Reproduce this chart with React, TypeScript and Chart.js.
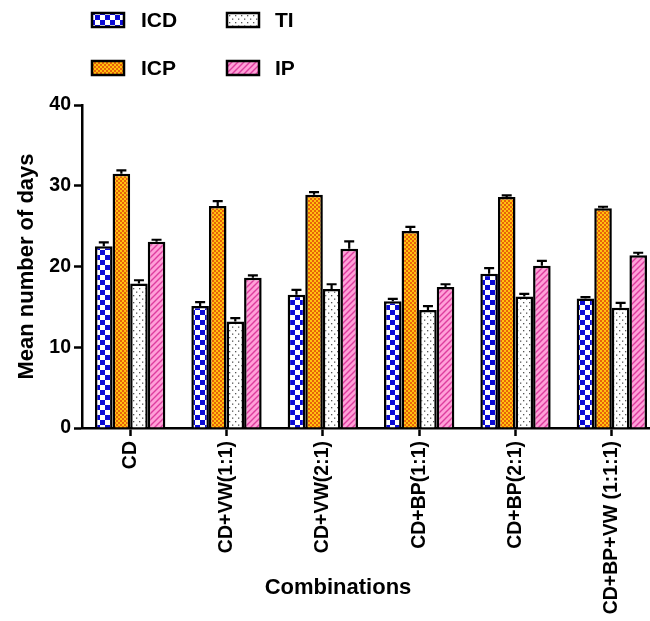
import React, { useEffect, useRef } from "react";
import { Chart, registerables } from "chart.js";

Chart.register(...registerables);

const categories = ["CD", "CD+VW(1:1)", "CD+VW(2:1)", "CD+BP(1:1)", "CD+BP(2:1)", "CD+BP+VW (1:1:1)"];
const seriesNames = ["ICD", "ICP", "TI", "IP"];

const icdValues = [22.5, 15.1, 16.5, 15.7, 19.1, 16.05];
const icdErrors = [0.5, 0.5, 0.6, 0.3, 0.7, 0.15];
const icpValues = [31.5, 27.5, 28.9, 24.4, 28.6, 27.2];
const icpErrors = [0.4, 0.6, 0.3, 0.5, 0.2, 0.2];
const tiValues = [17.9, 13.2, 17.2, 14.6, 16.3, 14.9];
const tiErrors = [0.4, 0.4, 0.6, 0.5, 0.3, 0.6];
const ipValues = [23.06, 18.6, 22.2, 17.45, 20.1, 21.4];
const ipErrors = [0.25, 0.3, 0.9, 0.35, 0.6, 0.3];

const yMin = 0;
const yMax = 40;
const yStep = 10;
const yTitle = "Mean number of days";
const xTitle = "Combinations";

const FONT = "'Liberation Sans', Arial, Helvetica, sans-serif";

function makePattern(kind: string): CanvasPattern | string {
  const c = document.createElement("canvas");
  const ctx = c.getContext("2d")!;
  if (kind === "ICD") {
    c.width = 10; c.height = 10;
    ctx.fillStyle = "#ffffff"; ctx.fillRect(0, 0, 10, 10);
    ctx.fillStyle = "#0b0bd6";
    ctx.fillRect(0, 0, 5, 5); ctx.fillRect(5, 5, 5, 5);
  } else if (kind === "ICP") {
    c.width = 4; c.height = 4;
    ctx.fillStyle = "#ffc20e"; ctx.fillRect(0, 0, 4, 4);
    ctx.fillStyle = "#e8620a";
    ctx.fillRect(0, 0, 2, 2); ctx.fillRect(2, 2, 2, 2);
  } else if (kind === "TI") {
    c.width = 6; c.height = 7;
    ctx.fillStyle = "#ffffff"; ctx.fillRect(0, 0, 6, 7);
    ctx.fillStyle = "#555555";
    ctx.fillRect(1, 1, 1.3, 1.3); ctx.fillRect(4, 4.5, 1.3, 1.3);
  } else {
    c.width = 6; c.height = 6;
    ctx.fillStyle = "#ff9fd8"; ctx.fillRect(0, 0, 6, 6);
    ctx.strokeStyle = "#dd3d9e"; ctx.lineWidth = 1.4;
    ctx.beginPath();
    ctx.moveTo(0, 6); ctx.lineTo(6, 0);
    ctx.moveTo(-1, 1); ctx.lineTo(1, -1);
    ctx.moveTo(5, 7); ctx.lineTo(7, 5);
    ctx.stroke();
  }
  return ctx.createPattern(c, "repeat")!;
}

export default function App() {
  const ref = useRef<HTMLCanvasElement>(null);

  useEffect(() => {
    if (!ref.current) return;
    const values = [icdValues, icpValues, tiValues, ipValues];
    const errors = [icdErrors, icpErrors, tiErrors, ipErrors];
    const datasets = seriesNames.map((name, i) => ({
      label: name,
      data: values[i],
      backgroundColor: makePattern(name) as any,
      borderColor: "#000000",
      borderWidth: 2.5,
      categoryPercentage: 0.73,
      barPercentage: 1.0,
    }));

    const errorBars = {
      id: "errorBars",
      afterDatasetsDraw(chart: any) {
        const ctx = chart.ctx;
        const yScale = chart.scales.y;
        ctx.save();
        ctx.strokeStyle = "#000";
        ctx.lineWidth = 2.2;
        chart.data.datasets.forEach((ds: any, i: number) => {
          const meta = chart.getDatasetMeta(i);
          meta.data.forEach((bar: any, j: number) => {
            const v = values[i][j];
            const e = errors[i][j];
            const yt = yScale.getPixelForValue(v + e);
            const yb = yScale.getPixelForValue(v);
            ctx.beginPath();
            ctx.moveTo(bar.x, yb);
            ctx.lineTo(bar.x, yt);
            ctx.moveTo(bar.x - 5, yt);
            ctx.lineTo(bar.x + 5, yt);
            ctx.stroke();
          });
        });
        ctx.restore();
      },
    };

    const customLegend = {
      id: "customLegend",
      afterDraw(chart: any) {
        const ctx = chart.ctx;
        const colBox = [92, 227];
        const colText = [141, 275];
        const rowY = [20, 68];
        ctx.save();
        chart.data.datasets.forEach((ds: any, i: number) => {
          const col = Math.floor(i / 2);
          const row = i % 2;
          const bx = colBox[col];
          const by = rowY[row] - 7;
          ctx.fillStyle = ds.backgroundColor;
          ctx.fillRect(bx, by, 32, 14);
          ctx.strokeStyle = "#000";
          ctx.lineWidth = 2.5;
          ctx.strokeRect(bx, by, 32, 14);
          ctx.fillStyle = "#000";
          ctx.font = `bold 21px ${FONT}`;
          ctx.textBaseline = "middle";
          ctx.textAlign = "left";
          ctx.fillText(ds.label, colText[col], rowY[row] + 1);
        });
        ctx.font = `bold 22px ${FONT}`;
        ctx.textAlign = "center";
        ctx.textBaseline = "middle";
        ctx.fillStyle = "#000";
        ctx.fillText(xTitle, 338, 588);
        ctx.restore();
      },
    };

    const chart = new Chart(ref.current, {
      type: "bar",
      data: { labels: categories, datasets },
      options: {
        animation: false,
        responsive: false,
        devicePixelRatio: 1,
        layout: { padding: { top: 105, right: 10, left: 0, bottom: 0 } },
        plugins: { legend: { display: false }, tooltip: { enabled: false } },
        scales: {
          x: {
            afterFit: (scale: any) => { scale.height = 193; },
            grid: {
              offset: false,
              drawOnChartArea: false,
              drawTicks: true,
              tickLength: 8,
              tickColor: "#000",
              tickWidth: 2.5,
              color: "#000",
            },
            border: { color: "#000", width: 2.5 },
            ticks: {
              color: "#000",
              font: { family: FONT, size: 19.5, weight: "bold" },
              minRotation: 90,
              maxRotation: 90,
              padding: 5,
              autoSkip: false,
            },
          },
          y: {
            min: yMin,
            max: yMax,
            afterFit: (scale: any) => { scale.width = 82; },
            grid: {
              drawOnChartArea: false,
              drawTicks: true,
              tickLength: 8,
              tickColor: "#000",
              tickWidth: 2.5,
              color: "#000",
            },
            border: { color: "#000", width: 2.5 },
            ticks: {
              stepSize: yStep,
              color: "#000",
              font: { family: FONT, size: 19.5, weight: "bold" },
              padding: 3,
            },
            title: {
              display: true,
              text: yTitle,
              color: "#000",
              font: { family: FONT, size: 22, weight: "bold" },
              padding: { top: 14, bottom: 0 },
            },
          },
        },
      } as any,
      plugins: [errorBars, customLegend],
    });
    return () => chart.destroy();
  }, []);

  return (
    <div style={{ position: "fixed", left: 0, top: 0, width: 650, height: 621, overflow: "hidden", background: "#fff" }}>
      <canvas ref={ref} width={670} height={621} style={{ display: "block", width: 670, height: 621 }} />
    </div>
  );
}
